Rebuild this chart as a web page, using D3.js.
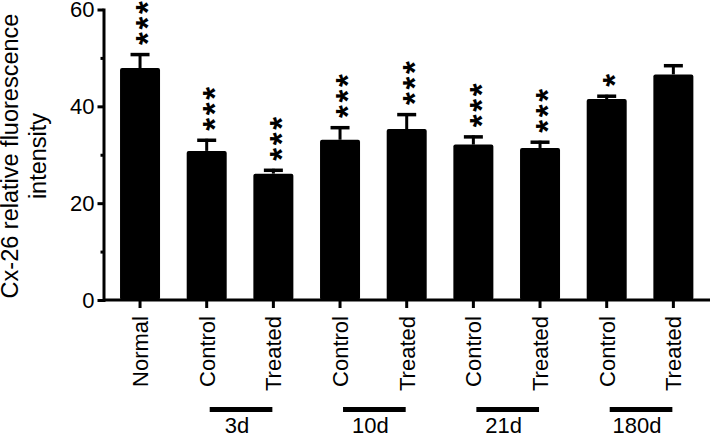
<!DOCTYPE html>
<html><head><meta charset="utf-8">
<script src="https://cdn.jsdelivr.net/npm/d3@7"></script>
<style>
body{margin:0;background:#fff}
svg{display:block}
text{font-family:"Liberation Sans",Arial,Helvetica,sans-serif;fill:#000}
</style>
</head><body>
<svg id="c" width="710" height="439"></svg>
<script>
// ---- data ----
const categories = ["Normal","Control","Treated","Control","Treated","Control","Treated","Control","Treated"];
const values = [47.9, 30.8, 26.1, 33.1, 35.3, 32.1, 31.4, 41.5, 46.6];
const errors = [3.1, 2.5, 1.0, 2.8, 3.3, 1.9, 1.5, 0.9, 2.1];
const stars  = ["***","***","***","***","***","***","***","*",""];
const groups = ["3d","10d","21d","180d"];
const groupMembers = [[1,2],[3,4],[5,6],[7,8]];
const yTicks = [0, 20, 40, 60];
const yMinorTicks = [10, 30, 50];
const yTitle = ["Cx-26 relative fluorescence", "intensity"];

// ---- layout ----
const W = 710, H = 439;
const axisX = 103.5, y0px = 300, yTopPx = 9.5;
const svg = d3.select("#c");
const idx = categories.map((_, i) => i);

const y = d3.scaleLinear().domain([0, 60]).range([y0px, yTopPx]);
const x = d3.scaleBand().domain(idx).range([106.7, 706.7]).paddingInner(0.4).paddingOuter(0.2);
const bw = x.bandwidth();
const cx = i => x(i) + bw / 2;

// bars
svg.append("g").selectAll("rect").data(idx).join("rect")
  .attr("x", i => x(i)).attr("width", bw)
  .attr("y", i => y(values[i])).attr("height", i => y(0) - y(values[i]))
  .attr("rx", 2).attr("fill", "#000");

// error bars (upper)
const eg = svg.append("g").attr("stroke", "#000");
eg.selectAll("line.stem").data(idx).join("line").attr("class", "stem")
  .attr("x1", cx).attr("x2", cx)
  .attr("y1", i => y(values[i])).attr("y2", i => y(values[i] + errors[i]))
  .attr("stroke-width", 3);
eg.selectAll("line.cap").data(idx).join("line").attr("class", "cap")
  .attr("x1", i => cx(i) - 9.5).attr("x2", i => cx(i) + 9.5)
  .attr("y1", i => y(values[i] + errors[i]) + 1.5).attr("y2", i => y(values[i] + errors[i]) + 1.5)
  .attr("stroke-width", 3.5);

// significance stars
const starData = [];
idx.forEach(i => {
  for (let k = 0; k < stars[i].length; k++) starData.push({i, k});
});
svg.append("g").selectAll("text").data(starData).join("text")
  .attr("transform", d => `translate(${cx(d.i)},${y(values[d.i] + errors[d.i]) - 14.5 - d.k * 15.5}) rotate(-90)`)
  .attr("text-anchor", "middle").attr("dy", "0.58em")
  .style("font-size", "33px").style("font-weight", "bold")
  .text("*");

// y axis
const yAxis = svg.append("g").attr("transform", `translate(${axisX},0)`)
  .call(d3.axisLeft(y).tickValues(yTicks).tickSize(6).tickSizeOuter(0).tickPadding(3));
yAxis.select(".domain").attr("stroke-width", 3).attr("stroke-linecap", "square");
yAxis.selectAll(".tick line").attr("stroke-width", 3);
yAxis.selectAll(".tick text").style("font-size", "22px").style("font-family", '"Liberation Sans",Arial,sans-serif');
const yMinor = svg.append("g").attr("transform", `translate(${axisX},0)`)
  .call(d3.axisLeft(y).tickValues(yMinorTicks).tickSize(3).tickFormat(""));
yMinor.select(".domain").remove();
yMinor.selectAll(".tick line").attr("stroke-width", 3);

// x axis line + ticks
svg.append("line").attr("x1", axisX).attr("x2", W).attr("y1", y(0)).attr("y2", y(0))
  .attr("stroke", "#000").attr("stroke-width", 3);
const xAxis = svg.append("g").attr("transform", `translate(0,${y(0)})`)
  .call(d3.axisBottom(x).tickSize(8).tickSizeOuter(0).tickFormat(i => categories[i]));
xAxis.select(".domain").remove();
xAxis.selectAll(".tick line").attr("stroke-width", 3);
xAxis.selectAll(".tick text")
  .attr("transform", "rotate(-90)")
  .attr("x", -16).attr("y", 0).attr("dy", "0.36em")
  .attr("text-anchor", "end")
  .style("font-size", "22px").style("font-family", '"Liberation Sans",Arial,sans-serif');

// y title
const yt = svg.append("g").attr("transform", "rotate(-90)");
yt.selectAll("text").data(yTitle).join("text")
  .attr("x", -156).attr("y", (d, j) => 18 + j * 28)
  .attr("text-anchor", "middle").style("font-size", "23.5px").text(d => d);

// group brackets
const gg = svg.append("g");
groups.forEach((g, j) => {
  const [a, b] = groupMembers[j];
  const x1 = cx(a) + 3, x2 = cx(b) - 1;
  gg.append("line").attr("x1", x1).attr("x2", x2).attr("y1", 409.5).attr("y2", 409.5)
    .attr("stroke", "#000").attr("stroke-width", 5);
  gg.append("text").attr("x", (x1 + x2) / 2 - 4).attr("y", 433)
    .attr("text-anchor", "middle").style("font-size", "22px").text(g);
});
</script>
</body></html>
